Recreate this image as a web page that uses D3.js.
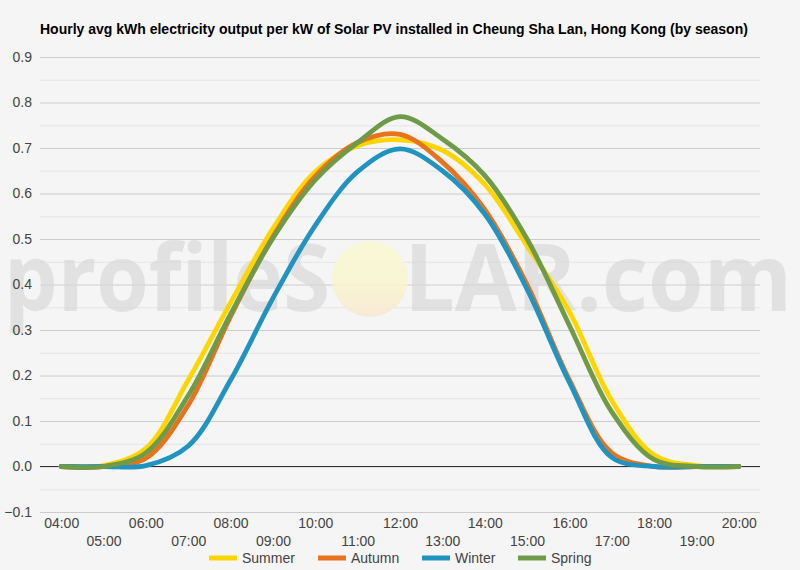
<!DOCTYPE html>
<html><head><meta charset="utf-8">
<script src="https://cdn.jsdelivr.net/npm/d3@7"></script>
<style>
html,body{margin:0;padding:0;background:#f5f5f5;}
svg{display:block;font-family:"Liberation Sans",Arial,sans-serif;}
</style></head>
<body>
<svg id="c" width="800" height="570"></svg>
<script>
const title = "Hourly avg kWh electricity output per kW of Solar PV installed in Cheung Sha Lan, Hong Kong (by season)";
const hours = ["04:00","05:00","06:00","07:00","08:00","09:00","10:00","11:00","12:00","13:00","14:00","15:00","16:00","17:00","18:00","19:00","20:00"];
const seriesNames = ["Summer","Autumn","Winter","Spring"];
const seriesColors = ["#ffd500","#e8731c","#2193c0","#6e9a4a"];
const summer = [0, 0.002, 0.04, 0.19, 0.36, 0.523, 0.648, 0.705, 0.718, 0.695, 0.62, 0.485, 0.34, 0.145, 0.025, 0.002, 0];
const autumn = [0, 0, 0.018, 0.135, 0.33, 0.505, 0.638, 0.712, 0.73, 0.669, 0.565, 0.40, 0.19, 0.03, 0, 0, 0];
const winter = [0, 0, 0.002, 0.045, 0.19, 0.37, 0.53, 0.648, 0.698, 0.65, 0.555, 0.39, 0.185, 0.02, 0, 0, 0];
const spring = [0, 0, 0.03, 0.156, 0.335, 0.502, 0.63, 0.712, 0.769, 0.72, 0.64, 0.5, 0.31, 0.12, 0.015, 0, 0];
const yTicks = [-0.1,0,0.1,0.2,0.3,0.4,0.5,0.6,0.7,0.8,0.9];
const yMinor = [-0.05,0.05,0.15,0.25,0.35,0.45,0.55,0.65,0.75,0.85];

const seriesData = [summer, autumn, winter, spring];
const svg = d3.select("#c");
const L = 40, R = 760, T = 57, B = 512;
const x = d3.scalePoint().domain(hours).range([L, R]).padding(0.5);
const y = d3.scaleLinear().domain([-0.1, 0.9]).range([B, T]);
const FONT = "'Liberation Sans',Arial,sans-serif";

svg.append("rect").attr("width",800).attr("height",570).attr("fill","#f5f5f5");

// title
svg.append("text").attr("x",40).attr("y",34).attr("font-size",14).attr("font-weight","bold")
  .attr("fill","#000").text(title);

// minor grid
svg.append("g").attr("transform",`translate(${L},0)`)
  .call(d3.axisLeft(y).tickValues(yMinor).tickSize(-(R-L)).tickFormat(""))
  .call(g=>g.select(".domain").remove())
  .call(g=>g.selectAll("line").attr("stroke","#e4e4e4"));
// major grid
svg.append("g").attr("transform",`translate(${L},0)`)
  .call(d3.axisLeft(y).tickValues(yTicks).tickSize(-(R-L)).tickFormat(""))
  .call(g=>g.select(".domain").remove())
  .call(g=>g.selectAll("line").attr("stroke","#cccccc"));

// watermark
const defs = svg.append("defs");
const grad = defs.append("linearGradient").attr("id","sun").attr("x1",0).attr("y1",0).attr("x2",0).attr("y2",1);
grad.append("stop").attr("offset","0%").attr("stop-color","#fafad2");
grad.append("stop").attr("offset","60%").attr("stop-color","#f9f4cf");
grad.append("stop").attr("offset","100%").attr("stop-color","#f9e8d2");
const wm = svg.append("g").attr("opacity",0.85);
wm.append("text").attr("x",4).attr("y",311).attr("font-family","'Open Sans',sans-serif").attr("font-weight","bold")
  .attr("font-size",93).attr("fill","#d8d8d8").attr("fill-opacity",0.8)
  .attr("textLength",326).attr("lengthAdjust","spacingAndGlyphs").text("profileS");
wm.append("circle").attr("cx",370).attr("cy",279).attr("r",38).attr("fill","url(#sun)");
wm.append("text").attr("x",404).attr("y",311).attr("font-family","'Open Sans',sans-serif").attr("font-weight","bold")
  .attr("font-size",93).attr("fill","#d8d8d8").attr("fill-opacity",0.8)
  .attr("textLength",388).attr("lengthAdjust","spacingAndGlyphs").text("LAR.com");

// zero line
svg.append("line").attr("x1",L).attr("x2",R).attr("y1",y(0)).attr("y2",y(0))
  .attr("stroke","#333").attr("stroke-width",1);

// y labels
svg.append("g").attr("transform",`translate(${L},0)`)
  .call(d3.axisLeft(y).tickValues(yTicks).tickSize(0).tickPadding(8).tickFormat(d3.format(".1f")))
  .call(g=>g.select(".domain").remove())
  .call(g=>g.selectAll("text").attr("font-size",14).attr("fill","#444").attr("font-family",FONT));

// x labels (alternating rows)
const evens = hours.filter((d,i)=>i%2===0), odds = hours.filter((d,i)=>i%2===1);
svg.append("g").attr("transform",`translate(0,${B})`)
  .call(d3.axisBottom(x).tickValues(evens).tickSize(0).tickPadding(6))
  .call(g=>g.select(".domain").remove())
  .call(g=>g.selectAll("text").attr("font-size",14).attr("fill","#444").attr("font-family",FONT));
svg.append("g").attr("transform",`translate(0,${B+18})`)
  .call(d3.axisBottom(x).tickValues(odds).tickSize(0).tickPadding(6))
  .call(g=>g.select(".domain").remove())
  .call(g=>g.selectAll("text").attr("font-size",14).attr("fill","#444").attr("font-family",FONT));

// lines
const line = d3.line().x((d,i)=>x(hours[i])).y(d=>y(d)).curve(d3.curveCatmullRom.alpha(0.5));
seriesData.forEach((s,k)=>{
  svg.append("path").datum(s).attr("d",line).attr("fill","none")
    .attr("stroke",seriesColors[k]).attr("stroke-width",4.8).attr("stroke-linejoin","round").attr("stroke-linecap","round");
});

// legend
const legX = [209, 318, 422, 518];
const lg = svg.append("g");
seriesNames.forEach((n,k)=>{
  lg.append("line").attr("x1",legX[k]).attr("x2",legX[k]+28).attr("y1",558).attr("y2",558)
    .attr("stroke",seriesColors[k]).attr("stroke-width",5);
  lg.append("text").attr("x",legX[k]+33).attr("y",563).attr("font-size",14).attr("fill","#444").text(n);
});
</script>
</body></html>
